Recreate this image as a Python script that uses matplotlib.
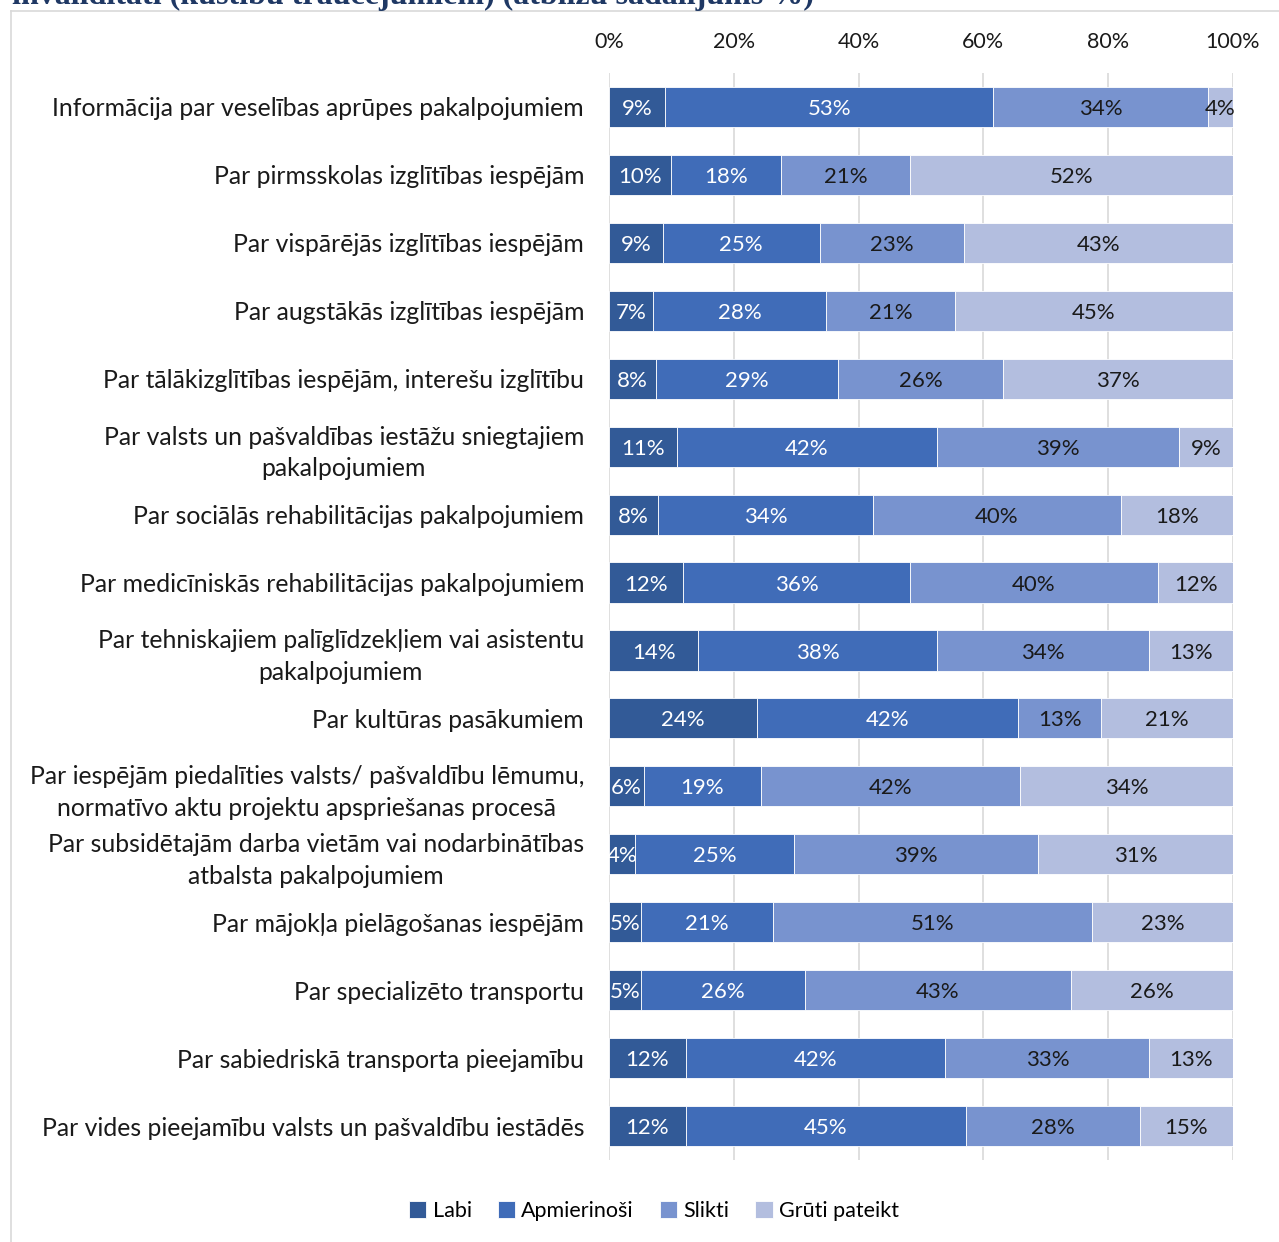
import matplotlib
matplotlib.use('Agg')
from matplotlib import pyplot as plt
from matplotlib.lines import Line2D
import numpy as np

plt.rcParams['font.family'] = ['Lato', 'DejaVu Sans']

categories = [
    'Informācija par veselības aprūpes pakalpojumiem',
    'Par pirmsskolas izglītības iespējām',
    'Par vispārējās izglītības iespējām',
    'Par augstākās izglītības iespējām',
    'Par tālākizglītības iespējām, interešu izglītību',
    'Par valsts un pašvaldības iestāžu sniegtajiem\npakalpojumiem',
    'Par sociālās rehabilitācijas pakalpojumiem',
    'Par medicīniskās rehabilitācijas pakalpojumiem',
    'Par tehniskajiem palīglīdzekļiem vai asistentu\npakalpojumiem',
    'Par kultūras pasākumiem',
    'Par iespējām piedalīties valsts/ pašvaldību lēmumu,\nnormatīvo aktu projektu apspriešanas procesā',
    'Par subsidētajām darba vietām vai nodarbinātības\natbalsta pakalpojumiem',
    'Par mājokļa pielāgošanas iespējām',
    'Par specializēto transportu',
    'Par sabiedriskā transporta pieejamību',
    'Par vides pieejamību valsts un pašvaldību iestādēs',
]
labi = [9.0, 9.9, 8.6, 7.0, 7.6, 10.9, 7.9, 11.9, 14.3, 23.7, 5.6, 4.2, 5.1, 5.1, 12.3, 12.3]
apmierinosi = [52.6, 17.7, 25.2, 27.8, 29.1, 41.6, 34.4, 36.3, 38.3, 41.8, 18.7, 25.4, 21.2, 26.3, 41.6, 44.9]
slikti = [34.4, 20.6, 23.1, 20.6, 26.4, 38.9, 39.7, 39.8, 34.0, 13.4, 41.6, 39.1, 51.1, 42.6, 32.7, 27.9]
gruti = [4.0, 51.8, 43.1, 44.6, 36.9, 8.6, 18.0, 12.0, 13.4, 21.1, 34.1, 31.3, 22.6, 26.0, 13.4, 14.9]
series_names = ['Labi', 'Apmierinoši', 'Slikti', 'Grūti pateikt']
colors = ['#325a97', '#406cb8', '#7893cf', '#b3bedf']
text_colors = ['white', 'white', '#1a1a1a', '#1a1a1a']

W, H = 1279, 1242
fig = plt.figure(figsize=(W / 100, H / 100), dpi=100)
ax = fig.add_axes([609 / W, (H - 1160) / H, 624 / W, (1160 - 73) / H])

y = np.arange(len(categories))
left = np.zeros(len(categories))
for vals, name, c, tc in zip([labi, apmierinosi, slikti, gruti], series_names, colors, text_colors):
    vals = np.array(vals)
    bars = ax.barh(y, vals, left=left, height=0.59, color=c, label=name,
                   edgecolor='white', linewidth=0.6, zorder=3)
    for b, v in zip(bars, vals):
        ax.text(b.get_x() + b.get_width() / 2, b.get_y() + b.get_height() / 2 + 0.03,
                '{:.0f}%'.format(v), ha='center', va='center', color=tc,
                fontsize=16, zorder=4)
    left += vals

ax.set_xlim(0, 100)
ax.set_ylim(len(categories) - 0.5, -0.5)
ax.xaxis.tick_top()
ax.set_xticks(range(0, 101, 20))
ax.set_xticklabels(['{}%'.format(t) for t in range(0, 101, 20)])
ax.tick_params(axis='x', length=0, labelsize=15.5, pad=15, colors='#1a1a1a')
ax.set_yticks(y)
ax.set_yticklabels(categories, fontsize=17.8, color='#1a1a1a',
                   multialignment='center', linespacing=1.45)
ax.tick_params(axis='y', length=0, pad=18)
ax.grid(axis='x', color='#d9d9d9', linewidth=1.2, zorder=0)
for s in ax.spines.values():
    s.set_visible(False)

fig.legend(loc='center', bbox_to_anchor=(654 / W, 1 - 1211 / H), ncol=4, frameon=False,
           fontsize=15.5, handlelength=0.8, handleheight=0.8, handletextpad=0.3,
           columnspacing=1.2)

# frame lines of the chart area
fig.add_artist(Line2D([11 / W, 1], [1 - 11 / H, 1 - 11 / H], color='#d9d9d9', linewidth=1.2))
fig.add_artist(Line2D([11 / W, 11 / W], [0, 1 - 11 / H], color='#d9d9d9', linewidth=1.2))

# heading from the page above, cut off at the top
fig.text(12 / W, 1 - 4 / H, 'invaliditāti (kustību traucējumiem) (atbilžu sadalījums %)',
         family='Liberation Serif', weight='bold', fontsize=23, color='#1f3864',
         ha='left', va='baseline')

fig.savefig('out.png', dpi=100)
